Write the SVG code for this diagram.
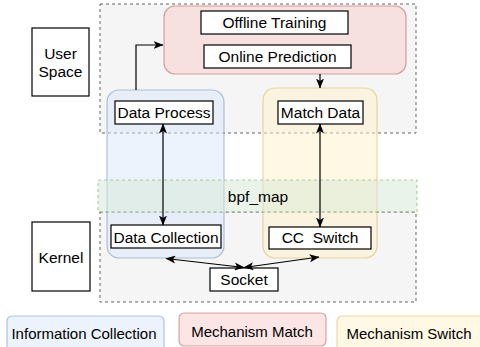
<svg xmlns="http://www.w3.org/2000/svg" width="480" height="347" viewBox="0 0 480 347">
  <defs>
    <style>
      text { font-family: "Liberation Sans", Arial, sans-serif; font-size: 15.5px; fill: #000; text-anchor: middle; }
      .legend text { font-size: 15px; }
      .zone { fill: #f5f5f5; stroke: #666; stroke-width: 1; stroke-dasharray: 3 3; }
      .box { fill: #fff; stroke: #000; stroke-width: 1.2; }
      .blue { fill: #dae8fc; fill-opacity: 0.5; stroke: #6c8ebf; stroke-opacity: 0.5; stroke-width: 1.2; }
      .red { fill: #f8cecc; fill-opacity: 0.5; stroke: #b85450; stroke-opacity: 0.5; stroke-width: 1.2; }
      .yellow { fill: #fff2cc; fill-opacity: 0.5; stroke: #d6b656; stroke-opacity: 0.5; stroke-width: 1.2; }
      .green { fill: #d5e8d4; fill-opacity: 0.5; stroke: #82b366; stroke-opacity: 0.6; stroke-width: 1.2; stroke-dasharray: 3 3; }
      .edge { fill: none; stroke: #000; stroke-width: 1.2; }
    </style>
    <marker id="arrow" viewBox="0 0 10 8" refX="9.5" refY="4" markerWidth="10" markerHeight="8" markerUnits="userSpaceOnUse" orient="auto-start-reverse">
      <path d="M0,0 L10,4 L0,8 L2.5,4 Z" fill="#000"/>
    </marker>
  </defs>

  <!-- layer bands -->
  <rect id="user-space-zone" class="zone" x="100" y="4" width="316" height="129"/>
  <rect id="kernel-zone" class="zone" x="100" y="212" width="316" height="90"/>

  <!-- functional regions -->
  <g id="info-collection-region"><rect class="blue" x="107" y="90" width="117" height="168" rx="12"/></g>
  <g id="mechanism-switch-region"><rect class="yellow" x="263" y="88" width="114" height="170" rx="12"/></g>
  <g id="mechanism-match-region"><rect class="red" x="164" y="6" width="242" height="68" rx="11"/></g>
  <g id="bpf-map">
    <rect class="green" x="98" y="180" width="319" height="32"/>
    <text x="258" y="202">bpf_map</text>
  </g>

  <!-- layer labels -->
  <g id="user-space-label">
    <rect class="box" x="32" y="28" width="57" height="68"/>
    <text x="60.5" y="59">User</text>
    <text x="60.5" y="77">Space</text>
  </g>
  <g id="kernel-label">
    <rect class="box" x="32" y="222" width="58" height="69"/>
    <text x="61" y="263">Kernel</text>
  </g>

  <!-- nodes -->
  <g id="offline-training">
    <rect class="box" x="201" y="11" width="147" height="23"/>
    <text x="274.5" y="28">Offline Training</text>
  </g>
  <g id="online-prediction">
    <rect class="box" x="204" y="45" width="147" height="23"/>
    <text x="277.5" y="62">Online Prediction</text>
  </g>
  <g id="data-process">
    <rect class="box" x="115" y="101" width="98" height="23"/>
    <text x="164" y="118">Data Process</text>
  </g>
  <g id="match-data">
    <rect class="box" x="278" y="101" width="85" height="23"/>
    <text x="320.5" y="118">Match Data</text>
  </g>
  <g id="data-collection">
    <rect class="box" x="111" y="225" width="110" height="23"/>
    <text x="166" y="242.5">Data Collection</text>
  </g>
  <g id="cc-switch">
    <rect class="box" x="269" y="227" width="102" height="22"/>
    <text x="320" y="243" xml:space="preserve">CC  Switch</text>
  </g>
  <g id="socket">
    <rect class="box" x="210" y="268" width="68" height="23"/>
    <text x="244" y="285">Socket</text>
  </g>

  <!-- connectors -->
  <g id="connectors">
    <path class="edge" d="M136,90 V45 H163" marker-end="url(#arrow)"/>
    <path class="edge" d="M320,74 V88" marker-end="url(#arrow)"/>
    <path class="edge" d="M163,124 V225" marker-start="url(#arrow)" marker-end="url(#arrow)"/>
    <path class="edge" d="M320,124 V227" marker-start="url(#arrow)" marker-end="url(#arrow)"/>
    <path class="edge" d="M244,267.5 L166,258.5" marker-start="url(#arrow)" marker-end="url(#arrow)"/>
    <path class="edge" d="M244,267.5 L319,257" marker-start="url(#arrow)" marker-end="url(#arrow)"/>
  </g>

  <!-- legend -->
  <g class="legend">
    <g id="legend-info-collection">
      <rect class="blue" x="7" y="316" width="157" height="40" rx="5"/>
      <text x="84" y="339">Information Collection</text>
    </g>
    <g id="legend-mechanism-match">
      <rect class="red" x="179" y="313" width="147" height="33" rx="5"/>
      <text x="252" y="337">Mechanism Match</text>
    </g>
    <g id="legend-mechanism-switch">
      <rect class="yellow" x="337" y="316" width="160" height="40" rx="5"/>
      <text x="409" y="339">Mechanism Switch</text>
    </g>
  </g>
</svg>
